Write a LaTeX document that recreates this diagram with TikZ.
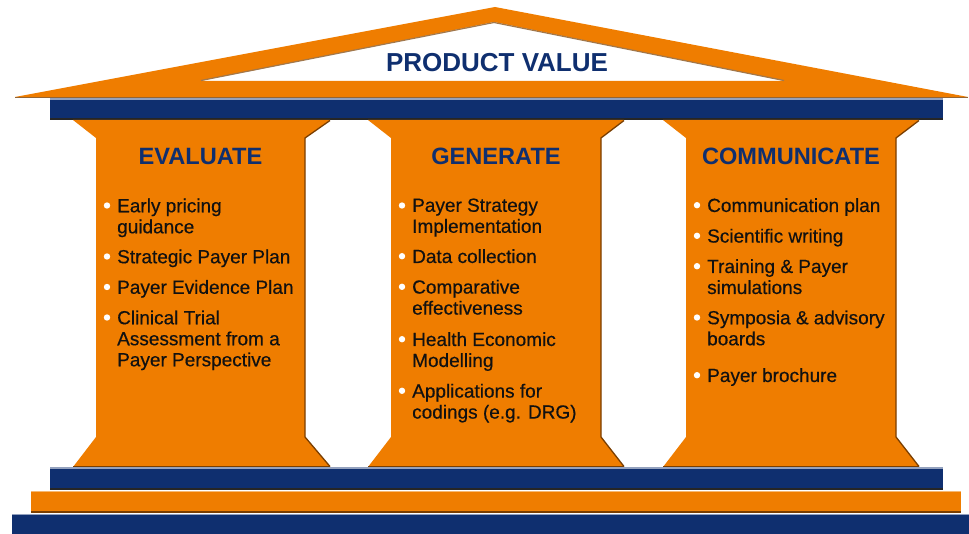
\documentclass[tikz,border=0pt]{standalone}
\usepackage{fontspec}
\setmainfont{Liberation Sans}
\newfontfamily\medfont[FakeBold=0.45]{Liberation Sans}
\definecolor{org}{HTML}{EF7D00}
\definecolor{navy}{HTML}{0F2F6F}
\definecolor{edgebrown}{HTML}{7A3E00}
\definecolor{ink}{HTML}{111111}
\begin{document}
\begin{tikzpicture}[x=1pt,y=-1pt,
  item/.style={anchor=north west, align=left, inner sep=0pt, text=ink,
    font=\medfont\fontsize{19}{21}\selectfont},
  head/.style={anchor=base, inner sep=0pt, text=navy,
    font=\bfseries\fontsize{23.6}{26}\selectfont},
  bul/.style={fill=white},
  navybar/.style={fill=navy},
  orgbar/.style={fill=org}]
\useasboundingbox (0,0) rectangle (969,534);
% roof
\fill[org,even odd rule] (15,97) -- (495,7) -- (968,97) -- cycle
  (200,81) -- (494,22) -- (785,81) -- cycle;
\draw[edgebrown!70,line width=1.2pt] (201,80.5) -- (494,22.5) -- (784,80.5);
\draw[edgebrown!80,line width=0.8pt] (15,97) -- (968,97);
% top bar
\fill[navybar] (50,98) rectangle (943,120);
\draw[navy!45!white,line width=1.5pt] (50,98.8) -- (943,98.8);
\draw[black!85,line width=1.5pt] (50,119.2) -- (943,119.2);
% columns
\foreach \fl/\bl/\br/\fr in {73/96/305/330, 368/391/601/624, 663/686/896/919}{
  \fill[org] (\fl,120) -- (\fr,120) -- (\br,138) -- (\br,437) -- (\fr,467)
    -- (\fl,467) -- (\bl,437) -- (\bl,138) -- cycle;
  \draw[edgebrown,line width=1.3pt] (\fr,120.5) -- (\br,138) -- (\br,437) -- (\fr,466.5);
  \draw[edgebrown,line width=1pt] (\fl,466.5) -- (\fr,466.5);
}
% base bars
\fill[navybar] (50,467) rectangle (943,490);
\draw[navy!45!white,line width=1.5pt] (50,467.8) -- (943,467.8);
\draw[black!85,line width=1.5pt] (50,489.2) -- (943,489.2);
\fill[orgbar] (31,490.5) rectangle (961,513);
\draw[org!55!white,line width=1.2pt] (31,491.2) -- (961,491.2);
\draw[edgebrown,line width=1.5pt] (31,512.2) -- (961,512.2);
\fill[navybar] (12,513.5) rectangle (969,534);
\draw[navy!45!white,line width=1.5pt] (12,514.3) -- (969,514.3);
% title
\node[anchor=base, inner sep=0pt, text=navy, font=\bfseries\fontsize{26}{28}\selectfont]
  (title) at (497,72) {PRODUCT VALUE};
% headings
\node[head] (h1) at (200.5,165) {EVALUATE};
\node[head] (h2) at (496,165) {GENERATE};
\node[head] (h3) at (791,165) {COMMUNICATE};
% items: node top = baseline - 13.7 (cap height)
% column 1
\node[item] (a1) at (117,212-13.7) {Early pricing\\guidance};
\node[item] (a2) at (117,263-13.7) {Strategic Payer Plan};
\node[item] (a3) at (117,293.5-13.7) {Payer Evidence Plan};
\node[item] (a4) at (117,324-13.7) {Clinical Trial\\Assessment from a\\Payer Perspective};
\foreach \y in {212,263,293.5,324}{\fill[bul] (107,\y-6.5) circle (3.2);}
% column 2
\node[item] (b1) at (412,212-13.7) {Payer Strategy\\Implementation};
\node[item] (b2) at (412,262.7-13.7) {Data collection};
\node[item] (b3) at (412,293.3-13.7) {Comparative\\effectiveness};
\node[item] (b4) at (412,345.7-13.7) {Health Economic\\Modelling};
\node[item] (b5) at (412,397.3-13.7) {Applications for\\codings (e.g. DRG)};
\foreach \y in {212,262.7,293.3,345.7,397.3}{\fill[bul] (402,\y-6.5) circle (3.2);}
% column 3
\node[item] (c1) at (707,211.7-13.7) {Communication plan};
\node[item] (c2) at (707,242.3-13.7) {Scientific writing};
\node[item] (c3) at (707,272.7-13.7) {Training \& Payer\\simulations};
\node[item] (c4) at (707,324-13.7) {Symposia \& advisory\\boards};
\node[item] (c5) at (707,381.7-13.7) {Payer brochure};
\foreach \y in {211.7,242.3,272.7,324,381.7}{\fill[bul] (697,\y-6.5) circle (3.2);}
\end{tikzpicture}
\end{document}
